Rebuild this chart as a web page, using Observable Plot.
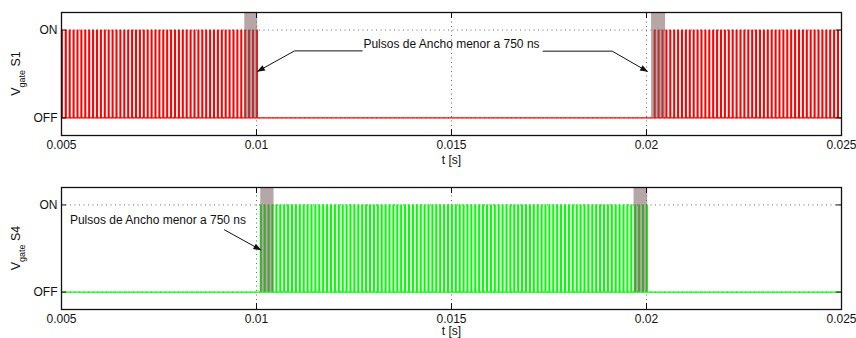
<!DOCTYPE html>
<html><head><meta charset="utf-8">
<script src="https://cdn.jsdelivr.net/npm/d3@7"></script>
<script src="https://cdn.jsdelivr.net/npm/@observablehq/plot@0.6"></script>
<style>
body{margin:0;background:#fff;font-family:"Liberation Sans",Arial,sans-serif;}
#chart{width:856px;height:338px;position:relative;overflow:hidden}
svg{display:block}
</style></head><body><div id="chart"></div>
<script>
// ---- data ----
const xTicks = [0.005, 0.01, 0.015, 0.02, 0.025];
const xTickLabels = ["0.005", "0.01", "0.015", "0.02", "0.025"];
const yTicks = [0, 1];
const yTickLabels = ["OFF", "ON"];
const xLabel = "t [s]";
const annotation = "Pulsos de Ancho menor a 750 ns";
const pulseWidthMs = 0.02;

// rising-edge times of the gate pulses (ms)
const s1PulsesMs = [
  5.0, 5.1, 5.2, 5.3, 5.4, 5.5, 5.6, 5.7, 5.8, 5.9,
  6.0, 6.1, 6.2, 6.3, 6.4, 6.5, 6.6, 6.7, 6.8, 6.9,
  7.0, 7.1, 7.2, 7.3, 7.4, 7.5, 7.6, 7.7, 7.8, 7.9,
  8.0, 8.1, 8.2, 8.3, 8.4, 8.5, 8.6, 8.7, 8.8, 8.9,
  9.0, 9.1, 9.2, 9.3, 9.4, 9.5, 9.6, 9.7, 9.8, 9.9,
  10.0,
  20.2, 20.3, 20.4, 20.5, 20.6, 20.7, 20.8, 20.9,
  21.0, 21.1, 21.2, 21.3, 21.4, 21.5, 21.6, 21.7, 21.8, 21.9,
  22.0, 22.1, 22.2, 22.3, 22.4, 22.5, 22.6, 22.7, 22.8, 22.9,
  23.0, 23.1, 23.2, 23.3, 23.4, 23.5, 23.6, 23.7, 23.8, 23.9,
  24.0, 24.1, 24.2, 24.3, 24.4, 24.5, 24.6, 24.7, 24.8, 24.9
];
const s4PulsesMs = [
  10.1, 10.2, 10.3, 10.4, 10.5, 10.6, 10.7, 10.8, 10.9,
  11.0, 11.1, 11.2, 11.3, 11.4, 11.5, 11.6, 11.7, 11.8, 11.9,
  12.0, 12.1, 12.2, 12.3, 12.4, 12.5, 12.6, 12.7, 12.8, 12.9,
  13.0, 13.1, 13.2, 13.3, 13.4, 13.5, 13.6, 13.7, 13.8, 13.9,
  14.0, 14.1, 14.2, 14.3, 14.4, 14.5, 14.6, 14.7, 14.8, 14.9,
  15.0, 15.1, 15.2, 15.3, 15.4, 15.5, 15.6, 15.7, 15.8, 15.9,
  16.0, 16.1, 16.2, 16.3, 16.4, 16.5, 16.6, 16.7, 16.8, 16.9,
  17.0, 17.1, 17.2, 17.3, 17.4, 17.5, 17.6, 17.7, 17.8, 17.9,
  18.0, 18.1, 18.2, 18.3, 18.4, 18.5, 18.6, 18.7, 18.8, 18.9,
  19.0, 19.1, 19.2, 19.3, 19.4, 19.5, 19.6, 19.7, 19.8, 19.9,
  20.0
];
// highlighted narrow-pulse regions (ms)
const s1Bands = [[9.70, 10.03], [20.13, 20.49]];
const s4Bands = [[10.11, 10.45], [19.68, 20.03]];
// annotation arrows [t ms, level]
const s1Arrows = [
  [[12.71, 0.763], [10.974, 0.763], [10.033, 0.531]],
  [[17.35, 0.760], [19.12, 0.760], [20.018, 0.531]]
];
const s4Arrows = [
  [[9.179, 0.714], [10.103, 0.485]]
];
const s1TextPos = [15.0, 0.84];
const s4TextPos = [7.474, 0.821];

// ---- build ----
const FONT = "Liberation Sans, Arial, Helvetica, sans-serif";
function waveform(pulses) {
  const pts = [{t: 5, v: 0}];
  for (const p of pulses) {
    pts.push({t: p, v: 0}, {t: p, v: 1}, {t: p + pulseWidthMs, v: 1}, {t: p + pulseWidthMs, v: 0});
  }
  pts.push({t: 25, v: 0});
  return pts;
}

function panel({pulses, color, bands, arrows, textPos, name, marginTop, marginBottom, labelDy}) {
  const H = 169;
  const pxPerUnit = (H - marginTop - marginBottom) / 1.4;
  const tl = 6 / pxPerUnit;           // inward tick length (y units)
  const tx = 5 / 39000;               // inward tick length (x units)
  const svg = Plot.plot({
    width: 856, height: H,
    marginLeft: 61, marginRight: 15, marginTop, marginBottom,
    style: {fontFamily: FONT, fontSize: "12px", color: "#111", background: "#fff"},
    x: {type: "linear", domain: [0.005, 0.025]},
    y: {domain: [-0.2, 1.2]},
    marks: [
      Plot.ruleX(xTicks.slice(1, -1), {y1: -0.2, y2: 1.2, stroke: "#444", strokeDasharray: "1,3.5", strokeOpacity: 0.8}),
      Plot.ruleY(yTicks, {stroke: "#444", strokeDasharray: "1,3.5", strokeOpacity: 0.8}),
      Plot.line(waveform(pulses), {x: d => d.t / 1000, y: "v", stroke: color, strokeWidth: 1.3}),
      Plot.rect(bands, {x1: d => d[0] / 1000, x2: d => d[1] / 1000, y1: 0, y2: 1.2, fill: "#7a5c5c", fillOpacity: 0.55}),
      Plot.ruleX(xTicks, {y1: -0.2, y2: -0.2 + tl, stroke: "#111"}),
      Plot.ruleX(xTicks, {y1: 1.2, y2: 1.2 - tl, stroke: "#111"}),
      Plot.ruleY(yTicks, {x1: 0.005, x2: 0.005 + tx, stroke: "#111"}),
      Plot.ruleY(yTicks, {x1: 0.025, x2: 0.025 - tx, stroke: "#111"}),
      ...arrows.map(a => Plot.line(a, {x: d => d[0] / 1000, y: d => d[1], stroke: "#111", strokeWidth: 1, markerEnd: "arrow"})),
      Plot.text([annotation], {x: textPos[0] / 1000, y: textPos[1], text: d => d, fontSize: 12, textAnchor: "middle", lineAnchor: "middle", fill: "#111"}),
      Plot.text([xLabel], {frameAnchor: "bottom", lineAnchor: "middle", dy: labelDy, text: d => d, fontSize: 12, fill: "#111"}),
      Plot.axisX(xTicks, {tickSize: 0, tickPadding: 5, fontSize: 12, label: null,
        tickFormat: d => xTickLabels[xTicks.indexOf(d)]}),
      Plot.axisY(yTicks, {tickSize: 0, tickPadding: 4, fontSize: 12, label: null,
        tickFormat: d => yTickLabels[yTicks.indexOf(d)]}),
      Plot.frame({stroke: "#111", strokeWidth: 1.3})
    ]
  });
  // filled arrow heads
  d3.select(svg).selectAll("marker").each(function() {
    const m = d3.select(this);
    m.attr("viewBox", "-8 -4 10 8").attr("markerWidth", 10).attr("markerHeight", 8)
     .attr("markerUnits", "userSpaceOnUse").attr("refX", 0).attr("refY", 0)
     .attr("fill", "#111").attr("stroke", "none");
    m.selectAll("*").remove();
    m.append("path").attr("d", "M-7,-3L1,0L-7,3Z").attr("fill", "#111").attr("stroke", "none");
  });
  // y-axis title with subscript
  const cy = (marginTop + H - marginBottom) / 2;
  const t = d3.select(svg).append("text")
    .attr("transform", `translate(20,${cy}) rotate(-90)`)
    .attr("text-anchor", "middle").attr("font-size", 12.5).attr("font-family", FONT).attr("fill", "#111");
  t.append("tspan").text("V");
  t.append("tspan").attr("font-size", 9).attr("dy", 5).text("gate");
  t.append("tspan").attr("dy", -5).text(" " + name);
  return svg;
}

const chart = document.getElementById("chart");
chart.append(panel({pulses: s1PulsesMs, color: "#ff0000", bands: s1Bands, arrows: s1Arrows,
  textPos: s1TextPos, name: "S1", marginTop: 12, marginBottom: 34, labelDy: 24.5}));
chart.append(panel({pulses: s4PulsesMs, color: "#00ff00", bands: s4Bands, arrows: s4Arrows,
  textPos: s4TextPos, name: "S4", marginTop: 18, marginBottom: 29, labelDy: 22}));
</script></body></html>
